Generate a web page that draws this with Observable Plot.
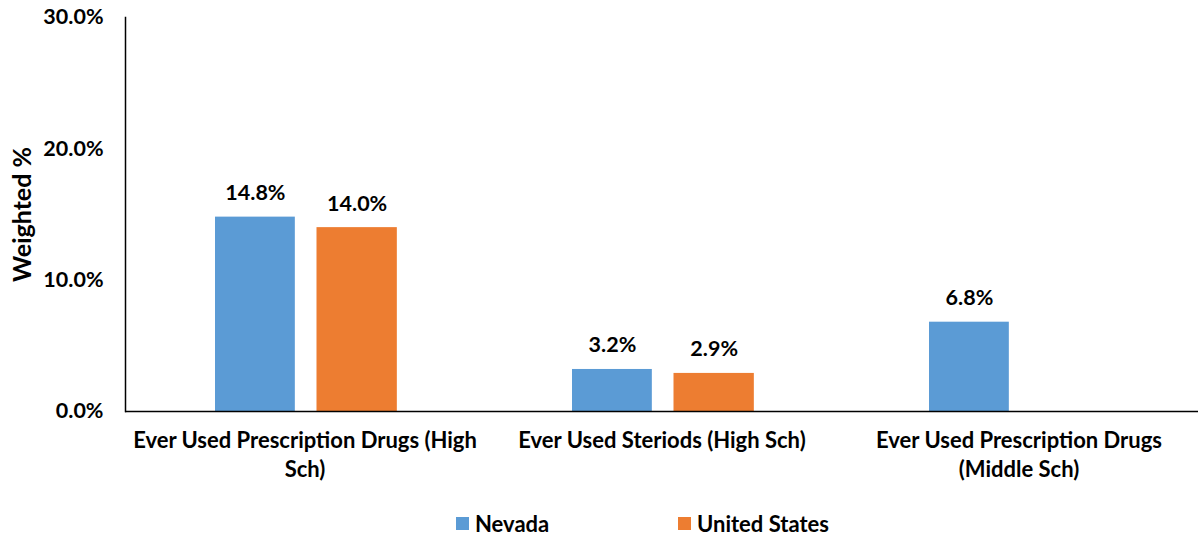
<!DOCTYPE html>
<html>
<head>
<meta charset="utf-8">
<script src="https://cdn.jsdelivr.net/npm/d3@7"></script>
<script src="https://cdn.jsdelivr.net/npm/@observablehq/plot@0.6"></script>
<style>
  html, body { margin: 0; padding: 0; background: #fff; }
  body { width: 1198px; height: 538px; overflow: hidden; font-family: Lato, "Open Sans", sans-serif; font-weight: 700; }
  #legend { position: relative; height: 38px; font-size: 22px; color: #000; }
  .item { position: absolute; top: 10px; display: flex; align-items: center; }
  .sw { width: 13px; height: 13px; margin-right: 6px; }
</style>
</head>
<body>
<div id="chart"></div>
<div id="legend"></div>
<script>
const categories = [
  "Ever Used Prescription Drugs (High Sch)",
  "Ever Used Steriods (High Sch)",
  "Ever Used Prescription Drugs (Middle Sch)"
];
const categoryLabels = [
  "Ever Used Prescription Drugs (High\nSch)",
  "Ever Used Steriods (High Sch)",
  "Ever Used Prescription Drugs\n(Middle Sch)"
];
const seriesNames = ["Nevada", "United States"];
const nevada = [0.148, 0.032, 0.068];
const unitedStates = [0.140, 0.029, null];
const yTicks = [0, 0.1, 0.2, 0.3];
const colors = ["#5B9BD5", "#ED7D31"];

const rowsNV = categories.map((c, i) => ({cat: c, v: nevada[i]})).filter(d => d.v != null);
const rowsUS = categories.map((c, i) => ({cat: c, v: unitedStates[i]})).filter(d => d.v != null);
const labelOf = new Map(categories.map((c, i) => [c, categoryLabels[i]]));
const pct = d3.format(".1%");

const bandW = (1198 - 125) / 3;
const nvL = 89, nvW = 80.5, gap = 21;
const usL = nvL + nvW + gap, usW = 81;

const chart = Plot.plot({
  width: 1198,
  height: 500,
  marginLeft: 125,
  marginRight: 0,
  marginTop: 17,
  marginBottom: 89,
  style: {fontFamily: "Lato, 'Open Sans', sans-serif", fontWeight: 700, fontSize: "22px", color: "#000"},
  x: {domain: categories, padding: 0},
  y: {domain: [0, 0.3]},
  marks: [
    Plot.barY(rowsNV, {x: "cat", y: "v", fill: colors[0], insetLeft: nvL, insetRight: bandW - nvL - nvW}),
    Plot.barY(rowsUS, {x: "cat", y: "v", fill: colors[1], insetLeft: usL, insetRight: bandW - usL - usW}),
    Plot.text(rowsNV, {x: "cat", y: "v", text: d => pct(d.v), dx: nvL + nvW / 2 - bandW / 2, dy: -24, fontSize: 21.5, fontWeight: 700, fill: "#000"}),
    Plot.text(rowsUS, {x: "cat", y: "v", text: d => pct(d.v), dx: usL + usW / 2 - bandW / 2, dy: -24, fontSize: 21.5, fontWeight: 700, fill: "#000"}),
    Plot.axisY({ticks: yTicks, tickFormat: pct, tickSize: 0, tickPadding: 22, fontSize: 21.5, fontWeight: 700, label: null}),
    Plot.axisY({ticks: [], tickSize: 0, fontSize: 25, fontWeight: 700,
      label: "Weighted %", labelAnchor: "center", labelArrow: "none", labelOffset: 112}),
    Plot.axisX({tickSize: 0, tickPadding: 16, tickFormat: d => labelOf.get(d), lineHeight: 1.32, fontSize: 22, fontWeight: 700, label: null}),
    Plot.ruleY([0], {stroke: "#000", strokeWidth: 1.5}),
    Plot.frame({anchor: "left", stroke: "#000", strokeWidth: 1.5})
  ]
});
document.getElementById("chart").appendChild(chart);

const legend = document.getElementById("legend");
const legendLeft = [456, 678];
seriesNames.forEach((name, i) => {
  const it = document.createElement("div");
  it.className = "item";
  it.style.left = legendLeft[i] + "px";
  const sw = document.createElement("div");
  sw.className = "sw";
  sw.style.background = colors[i];
  const t = document.createElement("span");
  t.textContent = name;
  it.appendChild(sw); it.appendChild(t);
  legend.appendChild(it);
});
</script>
</body>
</html>
